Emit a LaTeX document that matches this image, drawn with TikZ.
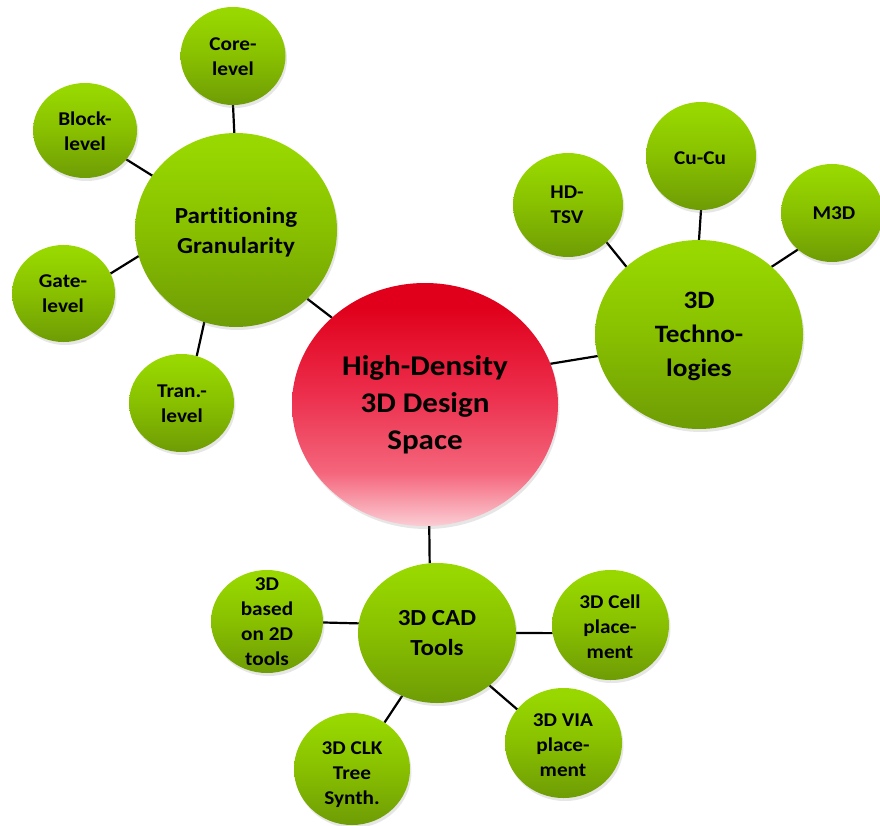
\documentclass[tikz,border=0pt]{standalone}
\usepackage{fontspec}
\setmainfont[FakeStretch=1.09, Ligatures=NoCommon]{Carlito}
\usetikzlibrary{shapes.geometric,shadows,backgrounds}
\definecolor{gtop}{HTML}{98D800}
\definecolor{gmid}{HTML}{88C000}
\definecolor{gbot}{HTML}{6E9C05}
\definecolor{rtop}{HTML}{E0001B}
\definecolor{rmid}{HTML}{EC2F4D}
\definecolor{rlow}{HTML}{F4667C}
\definecolor{rbot}{HTML}{FBCDD4}
\pgfdeclareverticalshading{greensh}{100bp}{color(0bp)=(gbot); color(25bp)=(gbot); color(50bp)=(gmid); color(72bp)=(gtop); color(100bp)=(gtop)}
\pgfdeclareverticalshading{redsh}{100bp}{color(0bp)=(rbot); color(25bp)=(rbot); color(36bp)=(rlow); color(52bp)=(rmid); color(70bp)=(rtop); color(100bp)=(rtop)}
\tikzset{
  bub/.style={ellipse, draw=none, inner sep=0pt, outer sep=0pt, shade, shading=greensh,
    drop shadow={shadow xshift=1.5pt, shadow yshift=-3pt, opacity=0.2}},
  hub/.style={ellipse, draw=none, inner sep=0pt, outer sep=0pt, shade, shading=redsh,
    drop shadow={shadow xshift=1.5pt, shadow yshift=-3pt, opacity=0.2}},
  lbl/.style={align=center, inner sep=0pt, font=\bfseries\fontsize{19.5}{25}\selectfont},
  conn/.style={line width=2.2pt, black}
}
\begin{document}
\begin{tikzpicture}[x=1pt, y=-1pt]
\useasboundingbox (0,0) rectangle (880,826);
% circles
\node[hub, minimum width=266pt, minimum height=243pt] (red) at (425,404.5) {};
\node[bub, minimum width=202pt, minimum height=194pt] (part) at (236,230) {};
\node[bub, minimum width=105pt, minimum height=98pt] (core) at (233,56) {};
\node[bub, minimum width=104pt, minimum height=95pt] (block) at (85,130.5) {};
\node[bub, minimum width=103pt, minimum height=97pt] (gate) at (63.5,293.5) {};
\node[bub, minimum width=105pt, minimum height=98pt] (tran) at (181.5,403) {};
\node[bub, minimum width=208pt, minimum height=189pt] (tech) at (699,334.5) {};
\node[bub, minimum width=110pt, minimum height=104pt] (hd) at (568,205) {};
\node[bub, minimum width=110pt, minimum height=108pt] (cu) at (701,156) {};
\node[bub, minimum width=102pt, minimum height=98pt] (m3d) at (832,213) {};
\node[bub, minimum width=158pt, minimum height=140pt] (cad) at (437,633) {};
\node[bub, minimum width=112pt, minimum height=103pt] (based) at (267,621.5) {};
\node[bub, minimum width=117pt, minimum height=110pt] (cell) at (610.5,625) {};
\node[bub, minimum width=117pt, minimum height=110pt] (via) at (563.5,743) {};
\node[bub, minimum width=116pt, minimum height=112pt] (clk) at (352,769) {};
% labels
\node[lbl, font=\bfseries\fontsize{28.5}{37}\selectfont] (redT) at (425,405) {High-Density\\3D Design\\Space};
\node[lbl, font=\bfseries\fontsize{23}{30}\selectfont] (partT) at (236,232) {Partitioning\\Granularity};
\node[lbl] (coreT) at (233,57) {Core-\\level};
\node[lbl] (blockT) at (85,131) {Block-\\level};
\node[lbl] (gateT) at (63,293.5) {Gate-\\level};
\node[lbl] (tranT) at (182,404) {Tran.-\\level};
\node[lbl, font=\bfseries\fontsize{25}{34}\selectfont] (techT) at (699,336) {3D\\Techno-\\logies};
\node[lbl] (hdT) at (567,205) {HD-\\TSV};
\node[lbl] (cuT) at (700,158) {Cu-Cu};
\node[lbl] (m3dT) at (834,213) {M3D};
\node[lbl, font=\bfseries\fontsize{23}{30}\selectfont] (cadT) at (437,633) {3D CAD\\Tools};
\node[lbl] (basedT) at (267,622) {3D\\based\\on 2D\\tools};
\node[lbl] (cellT) at (610,627) {3D Cell\\place-\\ment};
\node[lbl] (viaT) at (563,745) {3D VIA\\place-\\ment};
\node[lbl] (clkT) at (352,775) {3D CLK\\Tree\\Synth.};
% connectors
\begin{scope}[on background layer]
\draw[conn] (core.-90) -- (part.91);
\draw[conn] (block.-35) -- (part.147);
\draw[conn] (gate.23) -- (part.195);
\draw[conn] (tran.72) -- (part.251);
\draw[conn] (part.-44) -- (red.137);
\draw[conn] (red.18) -- (tech.192);
\draw[conn] (hd.-44) -- (tech.137);
\draw[conn] (cu.-90) -- (tech.90);
\draw[conn] (m3d.227) -- (tech.43);
\draw[conn] (red.-88) -- (cad.96);
\draw[conn] (based.-1) -- (cad.173);
\draw[conn] (cad.0) -- (cell.188);
\draw[conn] (cad.-45) -- (via.144);
\draw[conn] (cad.241) -- (clk.55);
\end{scope}
\end{tikzpicture}
\end{document}
